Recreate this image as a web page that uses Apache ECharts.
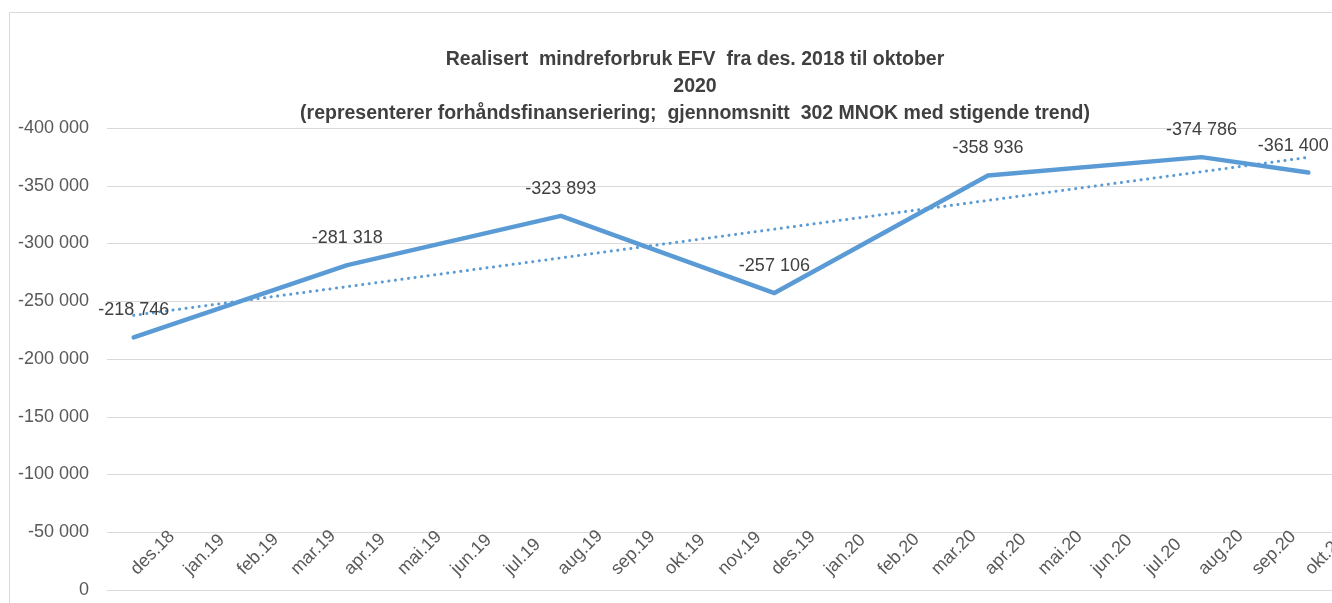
<!DOCTYPE html>
<html>
<head>
<meta charset="utf-8">
<script src="https://cdn.jsdelivr.net/npm/echarts@6/dist/echarts.min.js"></script>
<style>
  html, body { margin: 0; padding: 0; background: #fff; }
  #main { width: 1332px; height: 603px; }
</style>
</head>
<body>
<div id="main"></div>
<script>
var myChart = echarts.init(document.getElementById('main'));

// months on the x axis
const months = [
  'des.18', 'jan.19', 'feb.19', 'mar.19', 'apr.19', 'mai.19', 'jun.19', 'jul.19',
  'aug.19', 'sep.19', 'okt.19', 'nov.19', 'des.19', 'jan.20', 'feb.20', 'mar.20',
  'apr.20', 'mai.20', 'jun.20', 'jul.20', 'aug.20', 'sep.20', 'okt.20'
];

// realised underspend, only reported every fourth month (+ okt.20)
const realisert = [
  -218746, null, null, null, -281318, null, null, null,
  -323893, null, null, null, -257106, null, null, null,
  -358936, null, null, null, -374786, null, -361400
];

// linear trend, end points
const trend = [
  -237800, null, null, null, null, null, null, null,
  null, null, null, null, null, null, null, null,
  null, null, null, null, null, null, -374600
];

const yTicks = { min: -400000, max: 0, step: 50000 };

function fmt(v) {
  return String(v).replace(/\B(?=(\d{3})+(?!\d))/g, ' ');
}

const blue = '#5b9bd5';
const font = "'Liberation Sans', Arial, sans-serif";

const option = {
  backgroundColor: '#fff',
  animation: false,
  title: {
    text: 'Realisert  mindreforbruk EFV  fra des. 2018 til oktober\n2020\n(representerer forhåndsfinanseriering;  gjennomsnitt  302 MNOK med stigende trend)',
    left: 690,
    top: 41,
    textAlign: 'center',
    textStyle: {
      fontFamily: font,
      fontSize: 19.5,
      fontWeight: 'bold',
      color: '#404040',
      lineHeight: 27
    }
  },
  // chart area border (only left and top are inside the picture)
  graphic: [{
    type: 'polyline',
    shape: { points: [[9.5, 603], [9.5, 12.5], [1332, 12.5]] },
    style: { fill: 'none', stroke: '#d9d9d9', lineWidth: 1 },
    silent: true
  }],
  grid: { left: 107, top: 128, width: 1228, height: 462, outerBoundsMode: 'none' },
  xAxis: {
    type: 'category',
    data: months,
    boundaryGap: true,
    axisLine: { lineStyle: { color: '#d9d9d9' } },
    axisTick: { inside: true, length: 5, lineStyle: { color: '#d9d9d9' } },
    axisLabel: {
      inside: true,
      rotate: 45,
      interval: 0,
      margin: 18,
      fontFamily: font,
      fontSize: 18,
      color: '#595959'
    },
    splitLine: { show: false }
  },
  yAxis: {
    type: 'value',
    inverse: true,
    min: yTicks.min,
    max: yTicks.max,
    interval: yTicks.step,
    axisLine: { show: false },
    axisTick: { show: false },
    axisLabel: {
      margin: 18,
      fontFamily: font,
      fontSize: 18,
      color: '#595959',
      formatter: fmt
    },
    splitLine: { lineStyle: { color: '#d9d9d9' } }
  },
  series: [
    {
      type: 'line',
      data: realisert.map(function (v, i) {
        if (i === realisert.length - 1) {
          return { value: v, label: { offset: [-15, 0] } };
        }
        return v;
      }),
      connectNulls: true,
      symbol: 'circle',
      symbolSize: 0,
      lineStyle: { color: blue, width: 4.5, cap: 'round', join: 'round' },
      itemStyle: { color: blue },
      label: {
        show: true,
        position: 'top',
        distance: 18,
        fontFamily: font,
        fontSize: 18,
        color: '#404040',
        formatter: function (p) { return fmt(p.value); }
      },
      z: 3
    },
    {
      type: 'line',
      data: trend,
      connectNulls: true,
      symbol: 'none',
      lineStyle: { color: blue, width: 3, type: [0.1, 6.5], cap: 'round' },
      z: 2
    }
  ]
};

myChart.setOption(option);
</script>
</body>
</html>
